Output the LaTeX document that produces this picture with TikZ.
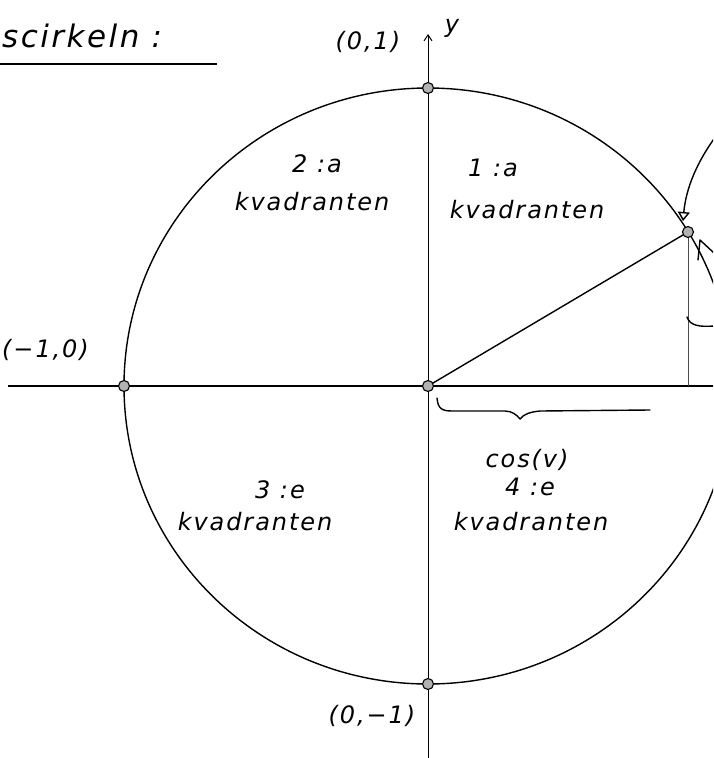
\documentclass[tikz,border=0pt]{standalone}
\usepackage{fontspec}
\newfontfamily\hand[LetterSpace=8]{DejaVu Sans}
\usetikzlibrary{arrows.meta}
\begin{document}
\begin{tikzpicture}[x=1pt,y=-1pt,
  dotp/.style={circle,draw=black,fill=gray!60,line width=1.1pt,inner sep=0pt,minimum size=11pt},
  hand/.style={font=\hand\itshape\fontsize{24}{27}\selectfont,inner sep=0pt},
  title/.style={font=\hand\itshape\fontsize{31}{35}\selectfont,inner sep=0pt},
  ink/.style={line width=1.4pt,line cap=round,line join=round}]
\useasboundingbox (0,0) rectangle (713,758);
\begin{scope}
\clip (0,0) rectangle (713,758);
% unit circle
\draw[ink] (428,386) ellipse [x radius=304, y radius=298];
% axes
\coordinate (xs) at (8,386);
\coordinate (xe) at (716,386);
\coordinate (ys) at (428,760);
\coordinate (ye) at (428,34);
\draw[line width=1.8pt] (xs) -- (xe);
\draw[line width=1pt,-{Straight Barb[length=6pt,width=8pt]}] (ys) -- (ye);
% points
\coordinate (O) at (428,386);
\coordinate (P) at (688,232);
\coordinate (F) at (688,386);
\draw[line width=0.9pt,gray!60!black] (P) -- (F);
\draw[ink] (O) -- (P);
\node[dotp] (T) at (428,88) {};
\node[dotp] (B) at (428,684) {};
\node[dotp] (L) at (124,386) {};
\node[dotp] (C) at (O) {};
\node[dotp] (Pd) at (P) {};
% brace under cos
\coordinate (b1) at (437,398);
\coordinate (b2) at (520,419);
\coordinate (b3) at (650,410);
\draw[ink] (b1) .. controls (438,408) and (441,411) .. (452,411) -- (505,411)
  .. controls (512,411) and (517,415) .. (b2)
  .. controls (524,414) and (530,412) .. (540,411) -- (b3);
% strokes at right edge
\coordinate (a1) at (716,136);
\coordinate (a2) at (683,221);
\draw[ink,-{Triangle[open,length=9pt,width=12pt]}] (a1) .. controls (697,162) and (686,188) .. (a2);
\coordinate (s1) at (698,260);
\coordinate (s2) at (700,240);
\coordinate (s3) at (714,253);
\draw[ink] (s1) -- (s2) -- (s3);
\coordinate (c1) at (687,317);
\coordinate (c2) at (714,326);
\draw[ink] (c1) .. controls (690,326) and (700,327) .. (c2);
% title
\node[title,anchor=west] (ttl) at (2,36) {scirkeln :};
\coordinate (u1) at (0,64);
\coordinate (u2) at (217,64);
\draw[line width=1.4pt] (u1) -- (u2);
% labels
\node[hand] (lT) at (368,42) {(0,1)};
\node[hand] (ly) at (452,28) {y};
\node[hand,anchor=west] (lL) at (2,350) {(−1,0)};
\node[hand] (lB) at (372,716) {(0,−1)};
\node[hand] (q2a) at (317,164) {2 :a};
\node[hand] (q2b) at (312,202) {kvadranten};
\node[hand] (q1a) at (493,168) {1 :a};
\node[hand] (q1b) at (527,210) {kvadranten};
\node[hand] (q3a) at (280,490) {3 :e};
\node[hand] (q3b) at (255,522) {kvadranten};
\node[hand] (cosv) at (527,460) {cos(v)};
\node[hand] (q4a) at (530,487) {4 :e};
\node[hand] (q4b) at (531,522) {kvadranten};
\end{scope}
\end{tikzpicture}
\end{document}
